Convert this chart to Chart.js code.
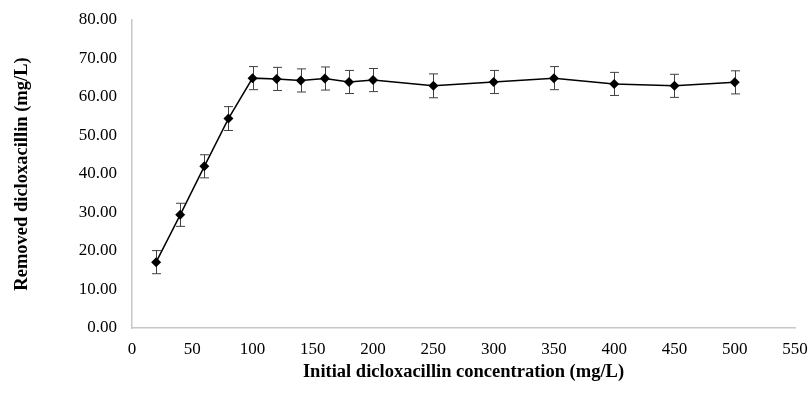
<!DOCTYPE html>
<html>
<head>
<meta charset="utf-8">
<script src="https://cdn.jsdelivr.net/npm/chart.js@4"></script>
<style>
  html, body { margin: 0; padding: 0; background: #fff; }
  canvas { display: block; }
</style>
</head>
<body>
<canvas id="chart" width="811" height="400"></canvas>
<script>
/* Data */
const concentrations = [20, 40, 60, 80, 100, 120, 140, 160, 180, 200, 250, 300, 350, 400, 450, 500];
const removed        = [17.1, 29.4, 42.0, 54.4, 64.9, 64.7, 64.3, 64.8, 63.9, 64.4, 62.9, 63.9, 64.9, 63.4, 62.9, 63.8];
const errors         = [3.0, 3.0, 3.0, 3.1, 3.0, 3.0, 3.0, 3.0, 3.0, 3.0, 3.1, 3.0, 3.0, 3.0, 3.0, 3.0];

const SERIF = "'Liberation Serif', 'Times New Roman', serif";

/* error bars drawn through the chart scales */
const errorBars = {
  id: 'errorBars',
  beforeDatasetsDraw(chart) {
    const { ctx, scales: { x, y } } = chart;
    ctx.save();
    ctx.strokeStyle = '#404040';
    ctx.lineWidth = 1;
    concentrations.forEach((c, i) => {
      const px  = Math.round(x.getPixelForValue(c)) + 0.5;
      const top = y.getPixelForValue(removed[i] + errors[i]);
      const bot = y.getPixelForValue(removed[i] - errors[i]);
      ctx.beginPath();
      ctx.moveTo(px, top); ctx.lineTo(px, bot);
      ctx.moveTo(px - 4.5, top); ctx.lineTo(px + 4.5, top);
      ctx.moveTo(px - 4.5, bot); ctx.lineTo(px + 4.5, bot);
      ctx.stroke();
    });
    ctx.restore();
  }
};

new Chart(document.getElementById('chart'), {
  type: 'scatter',
  data: {
    datasets: [{
      data: concentrations.map((c, i) => ({ x: c, y: removed[i] })),
      showLine: true,
      borderColor: '#000',
      borderWidth: 1.5,
      backgroundColor: '#000',
      pointStyle: 'rectRot',
      pointRadius: 5,
      pointBorderWidth: 0,
      tension: 0,
    }]
  },
  options: {
    responsive: false,
    animation: false,
    layout: { padding: { left: 0, right: 16, top: 20, bottom: 0 } },
    plugins: {
      legend: { display: false },
      tooltip: { enabled: false }
    },
    scales: {
      x: {
        type: 'linear',
        min: 0, max: 550,
        grid: { display: false, drawTicks: false },
        border: { display: true, color: '#c8c8c8', width: 1.5 },
        ticks: {
          stepSize: 50,
          padding: 11,
          color: '#000',
          font: { family: SERIF, size: 17 }
        },
        title: {
          display: true,
          text: 'Initial dicloxacillin concentration (mg/L)',
          color: '#000',
          font: { family: SERIF, size: 18.5, weight: 'bold' },
          padding: { top: 0, bottom: 17 }
        },
        afterFit(scale) {
          scale.height = 72;
          scale.paddingLeft = 0;
          scale.paddingRight = 0;
        }
      },
      y: {
        min: 0, max: 80,
        grid: { display: false, drawTicks: false },
        border: { display: true, color: '#c8c8c8', width: 1.5 },
        ticks: {
          stepSize: 10,
          padding: 15,
          color: '#000',
          font: { family: SERIF, size: 17 },
          callback: v => v.toFixed(2)
        },
        title: {
          display: true,
          text: 'Removed dicloxacillin (mg/L)',
          color: '#000',
          font: { family: SERIF, size: 18.5, weight: 'bold' },
          padding: { top: 11, bottom: 0 }
        },
        afterFit(scale) {
          scale.width = 132;
          scale.paddingTop = 0;
          scale.paddingBottom = 0;
        }
      }
    }
  },
  plugins: [errorBars]
});
</script>
</body>
</html>
